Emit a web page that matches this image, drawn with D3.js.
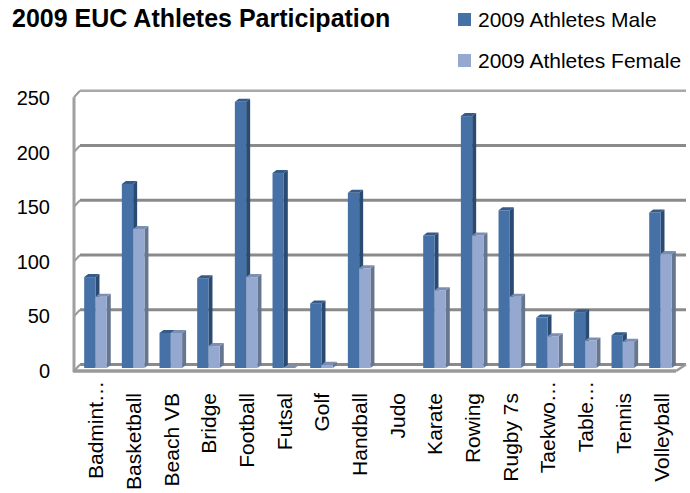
<!DOCTYPE html>
<html>
<head>
<meta charset="utf-8">
<script src="https://cdn.jsdelivr.net/npm/d3@7"></script>
<style>
  html, body { margin: 0; padding: 0; background: #fff; }
  svg { display: block; }
  text { font-family: "Liberation Sans", Arial, sans-serif; fill: #000; }
</style>
</head>
<body>
<div id="chart"></div>
<script>
const title = "2009 EUC Athletes Participation";
const categories = ["Badmint…", "Basketball", "Beach VB", "Bridge", "Football", "Futsal", "Golf", "Handball", "Judo", "Karate", "Rowing", "Rugby 7s", "Taekwo…", "Table…", "Tennis", "Volleyball"];
const seriesNames = ["2009 Athletes Male", "2009 Athletes Female"];
const male   = [83, 168, 32, 82, 243, 178, 59, 160, null, 121, 230, 144, 46, 51, 30, 142];
const female = [65, 127, 32, 20, 83, 0, 3, 91, null, 71, 121, 65, 29, 25, 24, 104];
const yTicks = [0, 50, 100, 150, 200, 250];

const W = 690, H = 493;
const svg = d3.select("#chart").append("svg").attr("width", W).attr("height", H);

// scales
const yBack  = d3.scaleLinear().domain([0, 250]).range([364.5, 90.7]);
const yFront = d3.scaleLinear().domain([0, 250]).range([371, 98]);
const yBar   = d3.scaleLinear().domain([0, 250]).range([368, 94.2]);
const xBar   = d3.scaleBand().domain(categories).range([74, 676.7]);
const bw = xBar.bandwidth() * 0.3;
const barOff = xBar.bandwidth() * 0.27;
const depthX = 4, depthY = -3;

const wallFrontX = 74, wallBackX = 80, backRight = 686, floorFrontRight = 676;
const grid = "#8a8a8a";

// back wall gridlines
svg.append("g").selectAll("line").data(yTicks).join("line")
  .attr("x1", wallBackX).attr("x2", backRight)
  .attr("y1", d => yBack(d)).attr("y2", d => yBack(d))
  .attr("stroke", d => d === 250 ? "#a8a8a8" : grid)
  .attr("stroke-width", d => d === 250 ? 2.5 : 3);

// left wall diagonals
svg.append("g").selectAll("line").data(yTicks).join("line")
  .attr("x1", wallFrontX).attr("x2", wallBackX)
  .attr("y1", d => yBack(d) + 6.5).attr("y2", d => yBack(d))
  .attr("stroke", "#9a9a9a").attr("stroke-width", 2);

// left wall vertical edge
svg.append("line")
  .attr("x1", wallFrontX).attr("x2", wallFrontX)
  .attr("y1", yBack(250) + 6.5).attr("y2", 372)
  .attr("stroke", "#a0a0a0").attr("stroke-width", 3);

// floor right diagonal
svg.append("line")
  .attr("x1", floorFrontRight).attr("y1", 371)
  .attr("x2", backRight).attr("y2", yBack(0))
  .attr("stroke", "#9a9a9a").attr("stroke-width", 2.5);

// bars
const colors = {
  male:   { front: "#4671a6", side: "#2b4a72", top: "#355b8a" },
  female: { front: "#95a9d0", side: "#66768f", top: "#7b8fb6" }
};
const base = yBar(0);
function drawBar(g, x, v, c) {
  if (v === null || v === undefined) return;
  const yt = yBar(v);
  g.append("polygon")
    .attr("points", [[x + bw, yt], [x + bw + depthX, yt + depthY], [x + bw + depthX, base + depthY], [x + bw, base]].join(" "))
    .attr("fill", c.side);
  g.append("rect").attr("x", x).attr("y", yt).attr("width", bw).attr("height", base - yt)
    .attr("fill", c.front);
  g.append("polygon")
    .attr("points", [[x, yt], [x + depthX, yt + depthY], [x + bw + depthX, yt + depthY], [x + bw, yt]].join(" "))
    .attr("fill", c.top);
}
const barsG = svg.append("g");
categories.forEach((cat, i) => {
  const x0 = xBar(cat) + barOff;
  drawBar(barsG, x0, male[i], colors.male);
  drawBar(barsG, x0 + bw, female[i], colors.female);
});

// floor front edge
svg.append("line")
  .attr("x1", wallFrontX - 1).attr("x2", floorFrontRight)
  .attr("y1", 371).attr("y2", 371)
  .attr("stroke", "#9a9a9a").attr("stroke-width", 3.5);

// y axis labels
svg.append("g").selectAll("text").data(yTicks).join("text")
  .attr("x", 50).attr("y", d => yFront(d)).attr("dy", "0.35em")
  .attr("text-anchor", "end").attr("font-size", 20)
  .text(d => d);

// category labels
svg.append("g").selectAll("text").data(categories).join("text")
  .attr("transform", d => {
    const cx = xBar(d) + barOff + bw + 0.5;
    const top = d.endsWith("…") ? 381 : 393;
    return `translate(${cx + 7.5},${top}) rotate(-90)`;
  })
  .attr("text-anchor", "end").attr("font-size", 21)
  .text(d => d);

// title
svg.append("text").attr("x", 12).attr("y", 27)
  .attr("font-size", 25).attr("font-weight", "bold")
  .text(title);

// legend
const legendColors = [colors.male.front, colors.female.front];
const lg = svg.append("g").selectAll("g").data(seriesNames).join("g")
  .attr("transform", (d, i) => `translate(458,${13 + i * 41})`);
lg.append("rect").attr("width", 13).attr("height", 13).attr("fill", (d, i) => legendColors[i]);
lg.append("text").attr("x", 20).attr("y", 6.5).attr("dy", "0.35em").attr("font-size", 21).text(d => d);
</script>
</body>
</html>
